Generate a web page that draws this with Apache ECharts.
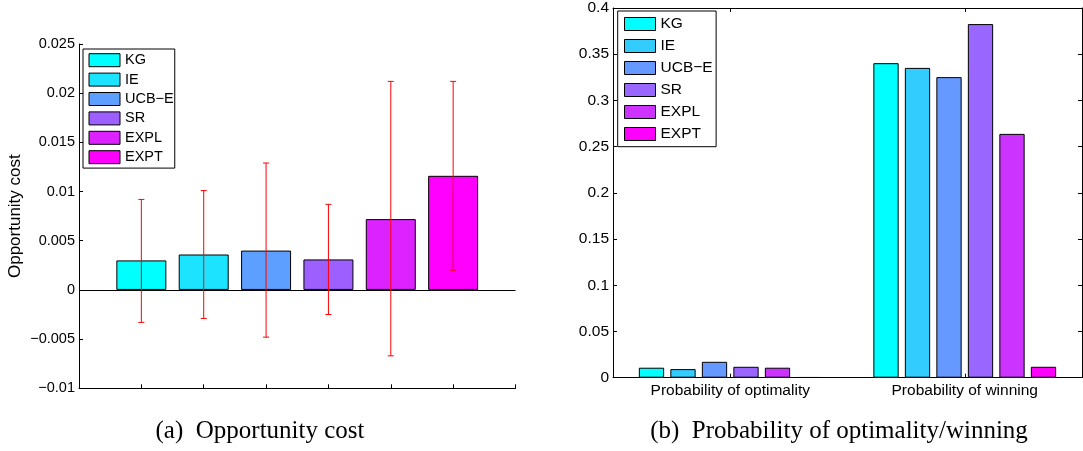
<!DOCTYPE html>
<html>
<head>
<meta charset="utf-8">
<script src="https://cdn.jsdelivr.net/npm/echarts@6/dist/echarts.min.js"></script>
<style>
html,body{margin:0;padding:0;background:#fff;}
#chart{width:1083px;height:451px;}
</style>
</head>
<body>
<div id="chart"></div>
<script>
// ---- data ----
const methods = ['KG', 'IE', 'UCB\u2212E', 'SR', 'EXPL', 'EXPT'];
const leftColors = ['#00FFFF', '#1CE3FF', '#5C9FFF', '#9D5FFF', '#DC22FF', '#FF00FF'];
const rightColors = ['#00FFFF', '#33CCFF', '#6699FF', '#9966FF', '#CC33FF', '#FF00FF'];
const costMean = [0.0030, 0.0036, 0.0040, 0.0031, 0.0072, 0.0116];
const costLow  = [-0.0033, -0.0029, -0.0048, -0.0025, -0.0067, 0.0020];
const costHigh = [0.0092, 0.0101, 0.0129, 0.0087, 0.0212, 0.0212];
const probCategories = ['Probability of optimality', 'Probability of winning'];
const probOptimality = [0.0108, 0.0093, 0.0172, 0.0118, 0.0108, 0.0005];
const probWinning    = [0.3403, 0.3352, 0.3252, 0.3826, 0.2638, 0.0118];
const costTicks = [-0.01, -0.005, 0, 0.005, 0.01, 0.015, 0.02, 0.025];
const probTicks = [0, 0.05, 0.1, 0.15, 0.2, 0.25, 0.3, 0.35, 0.4];
const captions = ['(a)  Opportunity cost', '(b)  Probability of optimality/winning'];
const costAxisName = 'Opportunity cost';

// ---- chart ----
const FONT = 'Liberation Sans';
const chart = echarts.init(document.getElementById('chart'), null, {renderer: 'canvas'});

const fmt = v => String(parseFloat(v.toFixed(4))).replace('-', '\u2212');
const blackLine = {show: true, onZero: false, lineStyle: {color: '#000', width: 1}};
const inTick = {show: true, inside: true, length: 4, lineStyle: {color: '#000', width: 1}};

const leftBars = methods.map((m, i) => ({
  type: 'bar', name: m, xAxisIndex: 0, yAxisIndex: 0,
  data: [[i + 1, costMean[i]]],
  barWidth: 50, barGap: '-100%',
  itemStyle: {color: leftColors[i], borderColor: '#000', borderWidth: 1},
  emphasis: {disabled: true},
  z: 2
}));
leftBars[0].markLine = {
  silent: true, symbol: 'none', label: {show: false},
  lineStyle: {color: '#000', width: 1, type: 'solid'},
  data: [{yAxis: 0}], animation: false
};

const errorSeries = {
  type: 'custom', name: 'err', xAxisIndex: 0, yAxisIndex: 0, z: 5,
  data: methods.map((m, i) => [i + 1, costLow[i], costHigh[i]]),
  encode: {x: 0, y: [1, 2]},
  renderItem: function (params, api) {
    const x = api.value(0);
    const lo = api.coord([x, api.value(1)]);
    const hi = api.coord([x, api.value(2)]);
    const cap = 3;
    const st = {stroke: '#FF0000', lineWidth: 1};
    return {type: 'group', children: [
      {type: 'line', shape: {x1: lo[0], y1: lo[1], x2: hi[0], y2: hi[1]}, style: st},
      {type: 'line', shape: {x1: hi[0] - cap, y1: hi[1], x2: hi[0] + cap, y2: hi[1]}, style: st},
      {type: 'line', shape: {x1: lo[0] - cap, y1: lo[1], x2: lo[0] + cap, y2: lo[1]}, style: st}
    ]};
  }
};

const rightBars = methods.map((m, i) => ({
  type: 'bar', name: m, xAxisIndex: 1, yAxisIndex: 1,
  data: [probOptimality[i], probWinning[i]],
  barWidth: 25.3, barGap: '24.5%',
  itemStyle: {color: rightColors[i], borderColor: '#000', borderWidth: 1},
  emphasis: {disabled: true}
}));

const option = {
  animation: false,
  textStyle: {fontFamily: FONT, color: '#000'},
  grid: [
    {left: 79, top: 44, width: 436.5, height: 344.3, containLabel: false},
    {left: 613, top: 6, width: 469, height: 371.7, containLabel: false}
  ],
  legend: [
    {
      orient: 'vertical', left: 83, top: 49,
      itemWidth: 31, itemHeight: 13, itemGap: 4.4,
      padding: [3.7, 1, 3.4, 5.5],
      borderColor: '#000', borderWidth: 1, backgroundColor: '#fff',
      icon: 'rect', selectedMode: false,
      textStyle: {fontFamily: FONT, fontSize: 14.5, color: '#000', lineHeight: 13},
      data: methods.map((m, i) => ({name: m, itemStyle: {color: leftColors[i], borderColor: '#000', borderWidth: 1}}))
    },
    {
      orient: 'vertical', left: 617.7, top: 11,
      itemWidth: 31, itemHeight: 13, itemGap: 6,
      padding: [5, 3.5, 4.7, 6.3],
      borderColor: '#000', borderWidth: 1, backgroundColor: '#fff',
      icon: 'rect', selectedMode: false,
      textStyle: {fontFamily: FONT, fontSize: 15.5, color: '#000', lineHeight: 13},
      data: methods.map((m, i) => ({name: m, itemStyle: {color: rightColors[i], borderColor: '#000', borderWidth: 1}}))
    }
  ],
  xAxis: [
    {gridIndex: 0, type: 'value', min: 0, max: methods.length + 1, interval: 1, position: 'bottom',
     axisLine: blackLine, axisTick: inTick, axisLabel: {show: false}, splitLine: {show: false}},
    {gridIndex: 1, type: 'category', data: probCategories, position: 'bottom',
     axisLine: blackLine, axisTick: Object.assign({alignWithLabel: true}, inTick),
     axisLabel: {fontSize: 15.5, color: '#000', margin: 5, fontFamily: FONT}, splitLine: {show: false}},
    {gridIndex: 1, type: 'category', data: probCategories, position: 'top',
     axisLine: blackLine, axisTick: Object.assign({alignWithLabel: true}, inTick),
     axisLabel: {show: false}, splitLine: {show: false}}
  ],
  yAxis: [
    {gridIndex: 0, type: 'value', min: costTicks[0], max: costTicks[costTicks.length - 1],
     interval: costTicks[1] - costTicks[0], position: 'left',
     axisLine: blackLine, axisTick: inTick, splitLine: {show: false},
     axisLabel: {fontSize: 14.5, color: '#000', margin: 4, fontFamily: FONT, formatter: fmt},
     name: costAxisName, nameLocation: 'middle', nameRotate: 90, nameGap: 55,
     nameTextStyle: {fontSize: 17, color: '#000', fontFamily: FONT}},
    {gridIndex: 1, type: 'value', min: probTicks[0], max: probTicks[probTicks.length - 1],
     interval: probTicks[1] - probTicks[0], position: 'left',
     axisLine: blackLine, axisTick: inTick, splitLine: {show: false},
     axisLabel: {fontSize: 15.5, color: '#000', margin: 4, fontFamily: FONT, formatter: fmt}},
    {gridIndex: 1, type: 'value', min: probTicks[0], max: probTicks[probTicks.length - 1],
     interval: probTicks[1] - probTicks[0], position: 'right',
     axisLine: blackLine, axisTick: inTick, splitLine: {show: false}, axisLabel: {show: false}}
  ],
  graphic: [
    {type: 'text', x: 260, y: 431, silent: true,
     style: {text: captions[0], font: '25px "Liberation Serif"', fill: '#000', align: 'center', verticalAlign: 'middle'}},
    {type: 'text', x: 839, y: 431, silent: true,
     style: {text: captions[1], font: '25px "Liberation Serif"', fill: '#000', align: 'center', verticalAlign: 'middle'}}
  ],
  series: [].concat(leftBars, [errorSeries], rightBars)
};
chart.setOption(option);
</script>
</body>
</html>
